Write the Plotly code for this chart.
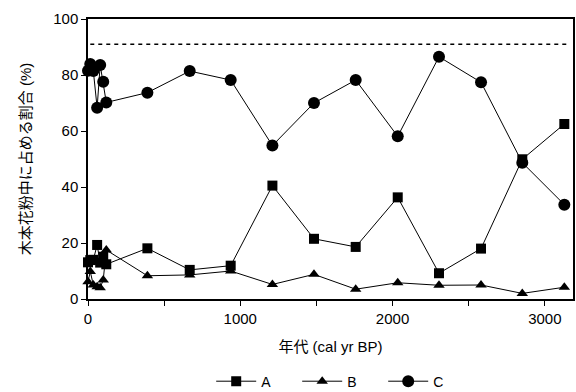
import plotly.graph_objects as go

ages = [0, 15, 35, 60, 80, 100, 120, 390, 668, 937, 1211, 1484, 1758, 2034, 2305, 2581, 2852, 3128]
series_a = [13.1, 13.9, 14.0, 19.3, 13.0, 15.1, 12.4, 18.1, 10.4, 11.9, 40.5, 21.5, 18.6, 36.3, 9.2, 18.0, 49.9, 62.5]
series_b = [6.2, 9.8, 5.0, 4.4, 4.0, 6.8, 17.5, 8.3, 8.6, 10.0, 5.2, 8.8, 3.5, 5.8, 4.9, 5.0, 2.0, 4.2]
series_c = [81.5, 83.9, 81.4, 68.3, 83.6, 77.6, 70.2, 73.7, 81.4, 78.2, 54.8, 70.0, 78.2, 58.1, 86.5, 77.4, 48.7, 33.7]
reference_level = 91
x_range = [0, 3185]

FONT = "Liberation Sans, Arial, Noto Sans CJK JP, sans-serif"

fig = go.Figure()
for name, vals, sym, size in [("A", series_a, "square", 10),
                              ("B", series_b, "triangle-up", 10),
                              ("C", series_c, "circle", 12)]:
    fig.add_trace(go.Scatter(
        x=ages, y=vals, name=name, mode="lines+markers",
        line=dict(color="black", width=1),
        marker=dict(symbol=sym, size=size, color="black"),
        cliponaxis=False,
    ))

fig.add_trace(go.Scatter(
    x=[x_range[0] + 15, x_range[1] - 30], y=[reference_level, reference_level],
    mode="lines", line=dict(color="black", width=1.5, dash="4px,4px"),
    showlegend=False, hoverinfo="skip",
))

fig.update_layout(
    width=576, height=392,
    margin=dict(l=88, r=3, t=19, b=93, autoexpand=False),
    paper_bgcolor="white", plot_bgcolor="white",
    font=dict(family=FONT, size=15, color="black"),
    showlegend=True,
    legend=dict(orientation="h", x=0.52, xanchor="center", y=-0.295, yanchor="middle",
                font=dict(size=14), itemwidth=40, tracegroupgap=0,
                entrywidth=31, entrywidthmode="pixels"),
)
fig.update_xaxes(
    range=x_range, tickvals=[0, 1000, 2000, 3000],
    ticks="outside", ticklen=5, tickwidth=1.2, tickcolor="black",
    minor=dict(tickvals=[500, 1500, 2500], ticks="outside", ticklen=5, tickwidth=1.2, tickcolor="black"),
    showline=True, linecolor="black", linewidth=1.5, mirror=True,
    showgrid=False, zeroline=False, automargin=False,
    title=dict(text="年代 (cal yr BP)", font=dict(size=15), standoff=16),
)
fig.update_yaxes(
    range=[0, 100], tickvals=[0, 20, 40, 60, 80, 100],
    ticks="outside", ticklen=5, tickwidth=1.2, tickcolor="black",
    showline=True, linecolor="black", linewidth=1.5, mirror=True,
    showgrid=False, zeroline=False, automargin=False,
    title=dict(text="木本花粉中に占める割合 (%)", font=dict(size=15), standoff=18),
)

fig.write_html(
    "out.html",
    config={"displayModeBar": False},
    post_script="document.body.style.margin='0';document.body.style.overflow='hidden';",
)
